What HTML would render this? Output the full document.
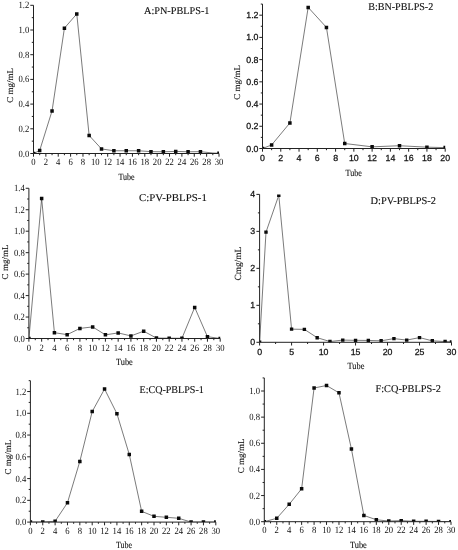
<!DOCTYPE html>
<html lang="en">
<head>
<meta charset="utf-8">
<title>PBLPS elution curves</title>
<style>
html,body{margin:0;padding:0;background:#fff;}
body{width:458px;height:550px;overflow:hidden;}
svg{display:block;}
text{text-rendering:geometricPrecision;}
</style>
</head>
<body>
<svg width="458" height="550" viewBox="0 0 458 550">
<rect width="458" height="550" fill="#fff"/>
<clipPath id="cpA"><rect x="33.5" y="5.3" width="185.5" height="148.2"/></clipPath>
<g clip-path="url(#cpA)">
<polyline fill="none" stroke="#333" stroke-width="0.65" points="33.5,153.5 39.68,150.54 52.05,110.89 64.42,28.15 76.78,13.95 89.15,135.47 101.52,148.93 113.88,150.78 126.25,150.78 138.62,150.78 150.98,151.65 163.35,151.77 175.72,151.4 188.08,151.77 200.45,151.65 212.82,153.01 219,153.25"/>
<path fill="#0a0a0a" d="M31.75 151.75h3.5v3.5h-3.5zM37.93 148.79h3.5v3.5h-3.5zM50.3 109.14h3.5v3.5h-3.5zM62.67 26.4h3.5v3.5h-3.5zM75.03 12.2h3.5v3.5h-3.5zM87.4 133.72h3.5v3.5h-3.5zM99.77 147.18h3.5v3.5h-3.5zM112.13 149.03h3.5v3.5h-3.5zM124.5 149.03h3.5v3.5h-3.5zM136.87 149.03h3.5v3.5h-3.5zM149.23 149.9h3.5v3.5h-3.5zM161.6 150.02h3.5v3.5h-3.5zM173.97 149.65h3.5v3.5h-3.5zM186.33 150.02h3.5v3.5h-3.5zM198.7 149.9h3.5v3.5h-3.5zM217.25 151.5h3.5v3.5h-3.5z"/>
</g>
<path fill="none" stroke="#222" stroke-width="1.0" d="M33.5 5.3V153.5H219M33.5 153.5v3.2M39.68 153.5v1.7M45.87 153.5v3.2M52.05 153.5v1.7M58.23 153.5v3.2M64.42 153.5v1.7M70.6 153.5v3.2M76.78 153.5v1.7M82.97 153.5v3.2M89.15 153.5v1.7M95.33 153.5v3.2M101.52 153.5v1.7M107.7 153.5v3.2M113.88 153.5v1.7M120.07 153.5v3.2M126.25 153.5v1.7M132.43 153.5v3.2M138.62 153.5v1.7M144.8 153.5v3.2M150.98 153.5v1.7M157.17 153.5v3.2M163.35 153.5v1.7M169.53 153.5v3.2M175.72 153.5v1.7M181.9 153.5v3.2M188.08 153.5v1.7M194.27 153.5v3.2M200.45 153.5v1.7M206.63 153.5v3.2M212.82 153.5v1.7M219 153.5v3.2M33.5 153.5h-3.2M33.5 141.15h-1.7M33.5 128.8h-3.2M33.5 116.45h-1.7M33.5 104.1h-3.2M33.5 91.75h-1.7M33.5 79.4h-3.2M33.5 67.05h-1.7M33.5 54.7h-3.2M33.5 42.35h-1.7M33.5 30h-3.2M33.5 17.65h-1.7M33.5 5.3h-3.2"/>
<g font-family='"Liberation Serif", serif' font-size="9.6" fill="#111" stroke="#111" stroke-width="0">
<g text-anchor="middle">
<text transform="translate(33.5 164.5) scale(0.9 1)">0</text>
<text transform="translate(45.87 164.5) scale(0.9 1)">2</text>
<text transform="translate(58.23 164.5) scale(0.9 1)">4</text>
<text transform="translate(70.6 164.5) scale(0.9 1)">6</text>
<text transform="translate(82.97 164.5) scale(0.9 1)">8</text>
<text transform="translate(95.33 164.5) scale(0.9 1)">10</text>
<text transform="translate(107.7 164.5) scale(0.9 1)">12</text>
<text transform="translate(120.07 164.5) scale(0.9 1)">14</text>
<text transform="translate(132.43 164.5) scale(0.9 1)">16</text>
<text transform="translate(144.8 164.5) scale(0.9 1)">18</text>
<text transform="translate(157.17 164.5) scale(0.9 1)">20</text>
<text transform="translate(169.53 164.5) scale(0.9 1)">22</text>
<text transform="translate(181.9 164.5) scale(0.9 1)">24</text>
<text transform="translate(194.27 164.5) scale(0.9 1)">26</text>
<text transform="translate(206.63 164.5) scale(0.9 1)">28</text>
<text transform="translate(219 164.5) scale(0.9 1)">30</text>
</g><g text-anchor="end">
<text transform="translate(29.3 156.5) scale(0.9 1)">0.0</text>
<text transform="translate(29.3 131.8) scale(0.9 1)">0.2</text>
<text transform="translate(29.3 107.1) scale(0.9 1)">0.4</text>
<text transform="translate(29.3 82.4) scale(0.9 1)">0.6</text>
<text transform="translate(29.3 57.7) scale(0.9 1)">0.8</text>
<text transform="translate(29.3 33) scale(0.9 1)">1.0</text>
<text transform="translate(29.3 8.3) scale(0.9 1)">1.2</text>
</g></g>
<g font-family='"Liberation Serif", serif' fill="#111" stroke="#111" stroke-width="0.12">
<text x="144" y="13.6" font-size="10.4" textLength="65.5" lengthAdjust="spacingAndGlyphs">A:PN-PBLPS-1</text>
<text x="118.4" y="180" font-size="9.5" textLength="16.2" lengthAdjust="spacingAndGlyphs">Tube</text>
<text transform="translate(12.7 85.3) rotate(-90)" font-size="9" text-anchor="middle">C mg/mL</text>
</g>
<clipPath id="cpB"><rect x="262.5" y="4.07" width="182.7" height="144.43"/></clipPath>
<g clip-path="url(#cpB)">
<polyline fill="none" stroke="#333" stroke-width="0.65" points="262.5,148.5 271.63,144.94 289.9,122.95 308.18,7.4 326.44,27.4 344.72,143.5 372.12,146.83 399.52,145.72 426.93,147.17 445.2,147.61"/>
<path fill="#0a0a0a" d="M260.75 146.75h3.5v3.5h-3.5zM269.88 143.19h3.5v3.5h-3.5zM288.15 121.2h3.5v3.5h-3.5zM306.43 5.65h3.5v3.5h-3.5zM324.69 25.65h3.5v3.5h-3.5zM342.97 141.75h3.5v3.5h-3.5zM370.37 145.08h3.5v3.5h-3.5zM397.77 143.97h3.5v3.5h-3.5zM425.18 145.42h3.5v3.5h-3.5zM443.45 145.86h3.5v3.5h-3.5z"/>
</g>
<path fill="none" stroke="#222" stroke-width="1.0" d="M262.5 4.07V148.5H445.2M262.5 148.5v3.2M271.63 148.5v1.7M280.77 148.5v3.2M289.9 148.5v1.7M299.04 148.5v3.2M308.18 148.5v1.7M317.31 148.5v3.2M326.44 148.5v1.7M335.58 148.5v3.2M344.72 148.5v1.7M353.85 148.5v3.2M362.99 148.5v1.7M372.12 148.5v3.2M381.25 148.5v1.7M390.39 148.5v3.2M399.52 148.5v1.7M408.66 148.5v3.2M417.79 148.5v1.7M426.93 148.5v3.2M436.06 148.5v1.7M445.2 148.5v3.2M262.5 148.5h-3.2M262.5 137.39h-1.7M262.5 126.28h-3.2M262.5 115.17h-1.7M262.5 104.06h-3.2M262.5 92.95h-1.7M262.5 81.84h-3.2M262.5 70.73h-1.7M262.5 59.62h-3.2M262.5 48.51h-1.7M262.5 37.4h-3.2M262.5 26.29h-1.7M262.5 15.18h-3.2M262.5 4.07h-1.7"/>
<g font-family='"Liberation Sans", sans-serif' font-size="8.8" fill="#111" stroke="#111" stroke-width="0.25">
<g text-anchor="middle">
<text transform="translate(262.5 160.8) scale(1 1)">0</text>
<text transform="translate(280.77 160.8) scale(1 1)">2</text>
<text transform="translate(299.04 160.8) scale(1 1)">4</text>
<text transform="translate(317.31 160.8) scale(1 1)">6</text>
<text transform="translate(335.58 160.8) scale(1 1)">8</text>
<text transform="translate(353.85 160.8) scale(1 1)">10</text>
<text transform="translate(372.12 160.8) scale(1 1)">12</text>
<text transform="translate(390.39 160.8) scale(1 1)">14</text>
<text transform="translate(408.66 160.8) scale(1 1)">16</text>
<text transform="translate(426.93 160.8) scale(1 1)">18</text>
<text transform="translate(445.2 160.8) scale(1 1)">20</text>
</g><g text-anchor="end">
<text transform="translate(258.5 151.5) scale(1 1)">0.0</text>
<text transform="translate(258.5 129.28) scale(1 1)">0.2</text>
<text transform="translate(258.5 107.06) scale(1 1)">0.4</text>
<text transform="translate(258.5 84.84) scale(1 1)">0.6</text>
<text transform="translate(258.5 62.62) scale(1 1)">0.8</text>
<text transform="translate(258.5 40.4) scale(1 1)">1.0</text>
<text transform="translate(258.5 18.18) scale(1 1)">1.2</text>
</g></g>
<g font-family='"Liberation Serif", serif' fill="#111" stroke="#111" stroke-width="0.12">
<text x="368.2" y="10.1" font-size="10.4" textLength="65.1" lengthAdjust="spacingAndGlyphs">B:BN-PBLPS-2</text>
<text x="345.55" y="175.5" font-size="9.5" textLength="16.3" lengthAdjust="spacingAndGlyphs">Tube</text>
<text transform="translate(240.3 82.3) rotate(-90)" font-size="9" text-anchor="middle">C mg/mL</text>
</g>
<clipPath id="cpC"><rect x="28.9" y="188.28" width="191.3" height="150.22"/></clipPath>
<g clip-path="url(#cpC)">
<polyline fill="none" stroke="#333" stroke-width="0.65" points="28.9,338.5 41.65,198.47 54.41,332.71 67.16,334.64 79.91,328.41 92.67,326.91 105.42,334.85 118.17,332.92 130.93,335.92 143.68,331.2 156.43,338.07 169.19,338.18 181.94,338.29 194.69,307.38 207.45,336.68 220.2,338.5"/>
<path fill="#0a0a0a" d="M27.15 336.75h3.5v3.5h-3.5zM39.9 196.72h3.5v3.5h-3.5zM52.66 330.96h3.5v3.5h-3.5zM65.41 332.89h3.5v3.5h-3.5zM78.16 326.66h3.5v3.5h-3.5zM90.92 325.16h3.5v3.5h-3.5zM103.67 333.1h3.5v3.5h-3.5zM116.42 331.17h3.5v3.5h-3.5zM129.18 334.17h3.5v3.5h-3.5zM141.93 329.45h3.5v3.5h-3.5zM154.68 336.32h3.5v3.5h-3.5zM167.44 336.43h3.5v3.5h-3.5zM180.19 336.54h3.5v3.5h-3.5zM192.94 305.63h3.5v3.5h-3.5zM205.7 334.93h3.5v3.5h-3.5zM218.45 336.75h3.5v3.5h-3.5z"/>
</g>
<path fill="none" stroke="#222" stroke-width="1.0" d="M28.9 188.28V338.5H220.2M28.9 338.5v3.2M35.28 338.5v1.7M41.65 338.5v3.2M48.03 338.5v1.7M54.41 338.5v3.2M60.78 338.5v1.7M67.16 338.5v3.2M73.54 338.5v1.7M79.91 338.5v3.2M86.29 338.5v1.7M92.67 338.5v3.2M99.04 338.5v1.7M105.42 338.5v3.2M111.8 338.5v1.7M118.17 338.5v3.2M124.55 338.5v1.7M130.93 338.5v3.2M137.3 338.5v1.7M143.68 338.5v3.2M150.06 338.5v1.7M156.43 338.5v3.2M162.81 338.5v1.7M169.19 338.5v3.2M175.56 338.5v1.7M181.94 338.5v3.2M188.32 338.5v1.7M194.69 338.5v3.2M201.07 338.5v1.7M207.45 338.5v3.2M213.82 338.5v1.7M220.2 338.5v3.2M28.9 338.5h-3.2M28.9 327.77h-1.7M28.9 317.04h-3.2M28.9 306.31h-1.7M28.9 295.58h-3.2M28.9 284.85h-1.7M28.9 274.12h-3.2M28.9 263.39h-1.7M28.9 252.66h-3.2M28.9 241.93h-1.7M28.9 231.2h-3.2M28.9 220.47h-1.7M28.9 209.74h-3.2M28.9 199.01h-1.7M28.9 188.28h-3.2"/>
<g font-family='"Liberation Serif", serif' font-size="9.6" fill="#111" stroke="#111" stroke-width="0">
<g text-anchor="middle">
<text transform="translate(28.9 350.7) scale(0.9 1)">0</text>
<text transform="translate(41.65 350.7) scale(0.9 1)">2</text>
<text transform="translate(54.41 350.7) scale(0.9 1)">4</text>
<text transform="translate(67.16 350.7) scale(0.9 1)">6</text>
<text transform="translate(79.91 350.7) scale(0.9 1)">8</text>
<text transform="translate(92.67 350.7) scale(0.9 1)">10</text>
<text transform="translate(105.42 350.7) scale(0.9 1)">12</text>
<text transform="translate(118.17 350.7) scale(0.9 1)">14</text>
<text transform="translate(130.93 350.7) scale(0.9 1)">16</text>
<text transform="translate(143.68 350.7) scale(0.9 1)">18</text>
<text transform="translate(156.43 350.7) scale(0.9 1)">20</text>
<text transform="translate(169.19 350.7) scale(0.9 1)">22</text>
<text transform="translate(181.94 350.7) scale(0.9 1)">24</text>
<text transform="translate(194.69 350.7) scale(0.9 1)">26</text>
<text transform="translate(207.45 350.7) scale(0.9 1)">28</text>
<text transform="translate(220.2 350.7) scale(0.9 1)">30</text>
</g><g text-anchor="end">
<text transform="translate(24.7 341.5) scale(0.9 1)">0.0</text>
<text transform="translate(24.7 320.04) scale(0.9 1)">0.2</text>
<text transform="translate(24.7 298.58) scale(0.9 1)">0.4</text>
<text transform="translate(24.7 277.12) scale(0.9 1)">0.6</text>
<text transform="translate(24.7 255.66) scale(0.9 1)">0.8</text>
<text transform="translate(24.7 234.2) scale(0.9 1)">1.0</text>
<text transform="translate(24.7 212.74) scale(0.9 1)">1.2</text>
<text transform="translate(24.7 191.28) scale(0.9 1)">1.4</text>
</g></g>
<g font-family='"Liberation Serif", serif' fill="#111" stroke="#111" stroke-width="0.12">
<text x="139" y="201.3" font-size="10.4" textLength="67.9" lengthAdjust="spacingAndGlyphs">C:PV-PBLPS-1</text>
<text x="116" y="364.6" font-size="9.5" textLength="16.8" lengthAdjust="spacingAndGlyphs">Tube</text>
<text transform="translate(7.6 262) rotate(-90)" font-size="9" text-anchor="middle">C mg/mL</text>
</g>
<clipPath id="cpD"><rect x="259.6" y="194.38" width="191.9" height="147.92"/></clipPath>
<g clip-path="url(#cpD)">
<polyline fill="none" stroke="#333" stroke-width="0.65" points="259.6,342.3 266,232.1 278.79,195.27 291.58,329.17 304.38,329.36 317.17,337.68 329.96,341.56 342.76,340.08 355.55,340.34 368.34,340.45 381.14,340.82 393.93,338.6 406.72,340.08 419.52,337.6 432.31,340.82 445.1,341.56 451.5,341.93"/>
<path fill="#0a0a0a" d="M257.9 340.6h3.4v3.4h-3.4zM264.3 230.4h3.4v3.4h-3.4zM277.09 193.57h3.4v3.4h-3.4zM289.88 327.47h3.4v3.4h-3.4zM302.68 327.66h3.4v3.4h-3.4zM315.47 335.98h3.4v3.4h-3.4zM328.26 339.86h3.4v3.4h-3.4zM341.06 338.38h3.4v3.4h-3.4zM353.85 338.64h3.4v3.4h-3.4zM366.64 338.75h3.4v3.4h-3.4zM379.44 339.12h3.4v3.4h-3.4zM392.23 336.9h3.4v3.4h-3.4zM405.02 338.38h3.4v3.4h-3.4zM417.82 335.9h3.4v3.4h-3.4zM430.61 339.12h3.4v3.4h-3.4zM443.4 339.86h3.4v3.4h-3.4zM449.8 340.23h3.4v3.4h-3.4z"/>
</g>
<path fill="none" stroke="#222" stroke-width="1.0" d="M259.6 194.38V342.3H451.5M259.6 342.3v3.2M275.59 342.3v1.7M291.58 342.3v3.2M307.58 342.3v1.7M323.57 342.3v3.2M339.56 342.3v1.7M355.55 342.3v3.2M371.54 342.3v1.7M387.53 342.3v3.2M403.52 342.3v1.7M419.52 342.3v3.2M435.51 342.3v1.7M451.5 342.3v3.2M259.6 342.3h-3.2M259.6 323.81h-1.7M259.6 305.32h-3.2M259.6 286.83h-1.7M259.6 268.34h-3.2M259.6 249.85h-1.7M259.6 231.36h-3.2M259.6 212.87h-1.7M259.6 194.38h-3.2"/>
<g font-family='"Liberation Sans", sans-serif' font-size="8.8" fill="#111" stroke="#111" stroke-width="0.25">
<g text-anchor="middle">
<text transform="translate(259.6 355) scale(1 1)">0</text>
<text transform="translate(291.58 355) scale(1 1)">5</text>
<text transform="translate(323.57 355) scale(1 1)">10</text>
<text transform="translate(355.55 355) scale(1 1)">15</text>
<text transform="translate(387.53 355) scale(1 1)">20</text>
<text transform="translate(419.52 355) scale(1 1)">25</text>
<text transform="translate(451.5 355) scale(1 1)">30</text>
</g><g text-anchor="end">
<text transform="translate(255.1 345.3) scale(1 1)">0</text>
<text transform="translate(255.1 308.32) scale(1 1)">1</text>
<text transform="translate(255.1 271.34) scale(1 1)">2</text>
<text transform="translate(255.1 234.36) scale(1 1)">3</text>
<text transform="translate(255.1 197.38) scale(1 1)">4</text>
</g></g>
<g font-family='"Liberation Serif", serif' fill="#111" stroke="#111" stroke-width="0.12">
<text x="370.5" y="203.5" font-size="10.4" textLength="65.5" lengthAdjust="spacingAndGlyphs">D:PV-PBLPS-2</text>
<text x="347.55" y="369.2" font-size="9.5" textLength="16.9" lengthAdjust="spacingAndGlyphs">Tube</text>
<text transform="translate(241.1 263.7) rotate(-90)" font-size="9.4" text-anchor="middle">Cmg/mL</text>
</g>
<clipPath id="cpE"><rect x="30.4" y="380.66" width="185.4" height="141.44"/></clipPath>
<g clip-path="url(#cpE)">
<polyline fill="none" stroke="#333" stroke-width="0.65" points="30.4,522.1 42.76,522.1 55.12,521.23 67.48,502.73 79.84,461.39 92.2,411.56 104.56,389.04 116.92,413.63 129.28,454.43 141.64,511.33 154,516.33 166.36,517.31 178.72,518.29 191.08,522.1 203.44,522.1 215.8,522.1"/>
<path fill="#0a0a0a" d="M28.65 520.35h3.5v3.5h-3.5zM41.01 520.35h3.5v3.5h-3.5zM53.37 519.48h3.5v3.5h-3.5zM65.73 500.98h3.5v3.5h-3.5zM78.09 459.64h3.5v3.5h-3.5zM90.45 409.81h3.5v3.5h-3.5zM102.81 387.29h3.5v3.5h-3.5zM115.17 411.88h3.5v3.5h-3.5zM127.53 452.68h3.5v3.5h-3.5zM139.89 509.58h3.5v3.5h-3.5zM152.25 514.58h3.5v3.5h-3.5zM164.61 515.56h3.5v3.5h-3.5zM176.97 516.54h3.5v3.5h-3.5zM189.33 520.35h3.5v3.5h-3.5zM201.69 520.35h3.5v3.5h-3.5zM214.05 520.35h3.5v3.5h-3.5z"/>
</g>
<path fill="none" stroke="#222" stroke-width="1.0" d="M30.4 380.66V522.1H215.8M30.4 522.1v3.2M36.58 522.1v1.7M42.76 522.1v3.2M48.94 522.1v1.7M55.12 522.1v3.2M61.3 522.1v1.7M67.48 522.1v3.2M73.66 522.1v1.7M79.84 522.1v3.2M86.02 522.1v1.7M92.2 522.1v3.2M98.38 522.1v1.7M104.56 522.1v3.2M110.74 522.1v1.7M116.92 522.1v3.2M123.1 522.1v1.7M129.28 522.1v3.2M135.46 522.1v1.7M141.64 522.1v3.2M147.82 522.1v1.7M154 522.1v3.2M160.18 522.1v1.7M166.36 522.1v3.2M172.54 522.1v1.7M178.72 522.1v3.2M184.9 522.1v1.7M191.08 522.1v3.2M197.26 522.1v1.7M203.44 522.1v3.2M209.62 522.1v1.7M215.8 522.1v3.2M30.4 522.1h-3.2M30.4 511.22h-1.7M30.4 500.34h-3.2M30.4 489.46h-1.7M30.4 478.58h-3.2M30.4 467.7h-1.7M30.4 456.82h-3.2M30.4 445.94h-1.7M30.4 435.06h-3.2M30.4 424.18h-1.7M30.4 413.3h-3.2M30.4 402.42h-1.7M30.4 391.54h-3.2M30.4 380.66h-1.7"/>
<g font-family='"Liberation Serif", serif' font-size="9.6" fill="#111" stroke="#111" stroke-width="0">
<g text-anchor="middle">
<text transform="translate(30.4 534) scale(0.9 1)">0</text>
<text transform="translate(42.76 534) scale(0.9 1)">2</text>
<text transform="translate(55.12 534) scale(0.9 1)">4</text>
<text transform="translate(67.48 534) scale(0.9 1)">6</text>
<text transform="translate(79.84 534) scale(0.9 1)">8</text>
<text transform="translate(92.2 534) scale(0.9 1)">10</text>
<text transform="translate(104.56 534) scale(0.9 1)">12</text>
<text transform="translate(116.92 534) scale(0.9 1)">14</text>
<text transform="translate(129.28 534) scale(0.9 1)">16</text>
<text transform="translate(141.64 534) scale(0.9 1)">18</text>
<text transform="translate(154 534) scale(0.9 1)">20</text>
<text transform="translate(166.36 534) scale(0.9 1)">22</text>
<text transform="translate(178.72 534) scale(0.9 1)">24</text>
<text transform="translate(191.08 534) scale(0.9 1)">26</text>
<text transform="translate(203.44 534) scale(0.9 1)">28</text>
<text transform="translate(215.8 534) scale(0.9 1)">30</text>
</g><g text-anchor="end">
<text transform="translate(26.2 525.1) scale(0.9 1)">0.0</text>
<text transform="translate(26.2 503.34) scale(0.9 1)">0.2</text>
<text transform="translate(26.2 481.58) scale(0.9 1)">0.4</text>
<text transform="translate(26.2 459.82) scale(0.9 1)">0.6</text>
<text transform="translate(26.2 438.06) scale(0.9 1)">0.8</text>
<text transform="translate(26.2 416.3) scale(0.9 1)">1.0</text>
<text transform="translate(26.2 394.54) scale(0.9 1)">1.2</text>
</g></g>
<g font-family='"Liberation Serif", serif' fill="#111" stroke="#111" stroke-width="0.12">
<text x="139.5" y="392.7" font-size="10.4" textLength="64.3" lengthAdjust="spacingAndGlyphs">E:CQ-PBLPS-1</text>
<text x="115.9" y="548.2" font-size="9.5" textLength="16.2" lengthAdjust="spacingAndGlyphs">Tube</text>
<text transform="translate(10.8 457.2) rotate(-90)" font-size="9" text-anchor="middle">C mg/mL</text>
</g>
<clipPath id="cpF"><rect x="264.3" y="377.93" width="186.7" height="143.77"/></clipPath>
<g clip-path="url(#cpF)">
<polyline fill="none" stroke="#333" stroke-width="0.65" points="264.3,521.7 276.75,518.3 289.19,504.32 301.64,488.76 314.09,387.99 326.53,385.51 338.98,392.83 351.43,449.03 363.87,515.43 376.32,519.74 388.77,521.05 401.21,520.65 413.66,521.31 426.11,521.31 438.55,521.44 451,521.7"/>
<path fill="#0a0a0a" d="M262.55 519.95h3.5v3.5h-3.5zM275 516.55h3.5v3.5h-3.5zM287.44 502.57h3.5v3.5h-3.5zM299.89 487.01h3.5v3.5h-3.5zM312.34 386.24h3.5v3.5h-3.5zM324.78 383.76h3.5v3.5h-3.5zM337.23 391.08h3.5v3.5h-3.5zM349.68 447.28h3.5v3.5h-3.5zM362.12 513.68h3.5v3.5h-3.5zM374.57 517.99h3.5v3.5h-3.5zM387.02 519.3h3.5v3.5h-3.5zM399.46 518.9h3.5v3.5h-3.5zM411.91 519.56h3.5v3.5h-3.5zM424.36 519.56h3.5v3.5h-3.5zM436.8 519.69h3.5v3.5h-3.5zM449.25 519.95h3.5v3.5h-3.5z"/>
</g>
<path fill="none" stroke="#222" stroke-width="1.0" d="M264.3 377.93V521.7H451M264.3 521.7v3.2M270.52 521.7v1.7M276.75 521.7v3.2M282.97 521.7v1.7M289.19 521.7v3.2M295.42 521.7v1.7M301.64 521.7v3.2M307.86 521.7v1.7M314.09 521.7v3.2M320.31 521.7v1.7M326.53 521.7v3.2M332.76 521.7v1.7M338.98 521.7v3.2M345.2 521.7v1.7M351.43 521.7v3.2M357.65 521.7v1.7M363.87 521.7v3.2M370.1 521.7v1.7M376.32 521.7v3.2M382.54 521.7v1.7M388.77 521.7v3.2M394.99 521.7v1.7M401.21 521.7v3.2M407.44 521.7v1.7M413.66 521.7v3.2M419.88 521.7v1.7M426.11 521.7v3.2M432.33 521.7v1.7M438.55 521.7v3.2M444.78 521.7v1.7M451 521.7v3.2M264.3 521.7h-3.2M264.3 508.63h-1.7M264.3 495.56h-3.2M264.3 482.49h-1.7M264.3 469.42h-3.2M264.3 456.35h-1.7M264.3 443.28h-3.2M264.3 430.21h-1.7M264.3 417.14h-3.2M264.3 404.07h-1.7M264.3 391h-3.2M264.3 377.93h-1.7"/>
<g font-family='"Liberation Serif", serif' font-size="9.6" fill="#111" stroke="#111" stroke-width="0">
<g text-anchor="middle">
<text transform="translate(264.3 533.3) scale(0.9 1)">0</text>
<text transform="translate(276.75 533.3) scale(0.9 1)">2</text>
<text transform="translate(289.19 533.3) scale(0.9 1)">4</text>
<text transform="translate(301.64 533.3) scale(0.9 1)">6</text>
<text transform="translate(314.09 533.3) scale(0.9 1)">8</text>
<text transform="translate(326.53 533.3) scale(0.9 1)">10</text>
<text transform="translate(338.98 533.3) scale(0.9 1)">12</text>
<text transform="translate(351.43 533.3) scale(0.9 1)">14</text>
<text transform="translate(363.87 533.3) scale(0.9 1)">16</text>
<text transform="translate(376.32 533.3) scale(0.9 1)">18</text>
<text transform="translate(388.77 533.3) scale(0.9 1)">20</text>
<text transform="translate(401.21 533.3) scale(0.9 1)">22</text>
<text transform="translate(413.66 533.3) scale(0.9 1)">24</text>
<text transform="translate(426.11 533.3) scale(0.9 1)">26</text>
<text transform="translate(438.55 533.3) scale(0.9 1)">28</text>
<text transform="translate(451 533.3) scale(0.9 1)">30</text>
</g><g text-anchor="end">
<text transform="translate(260.1 524.7) scale(0.9 1)">0.0</text>
<text transform="translate(260.1 498.56) scale(0.9 1)">0.2</text>
<text transform="translate(260.1 472.42) scale(0.9 1)">0.4</text>
<text transform="translate(260.1 446.28) scale(0.9 1)">0.6</text>
<text transform="translate(260.1 420.14) scale(0.9 1)">0.8</text>
<text transform="translate(260.1 394) scale(0.9 1)">1.0</text>
</g></g>
<g font-family='"Liberation Serif", serif' fill="#111" stroke="#111" stroke-width="0.12">
<text x="375.5" y="392" font-size="10.4" textLength="65.3" lengthAdjust="spacingAndGlyphs">F:CQ-PBLPS-2</text>
<text x="349.95" y="548.1" font-size="9.5" textLength="16.9" lengthAdjust="spacingAndGlyphs">Tube</text>
<text transform="translate(244 455.8) rotate(-90)" font-size="9" text-anchor="middle">C mg/mL</text>
</g>
</svg>
</body>
</html>
